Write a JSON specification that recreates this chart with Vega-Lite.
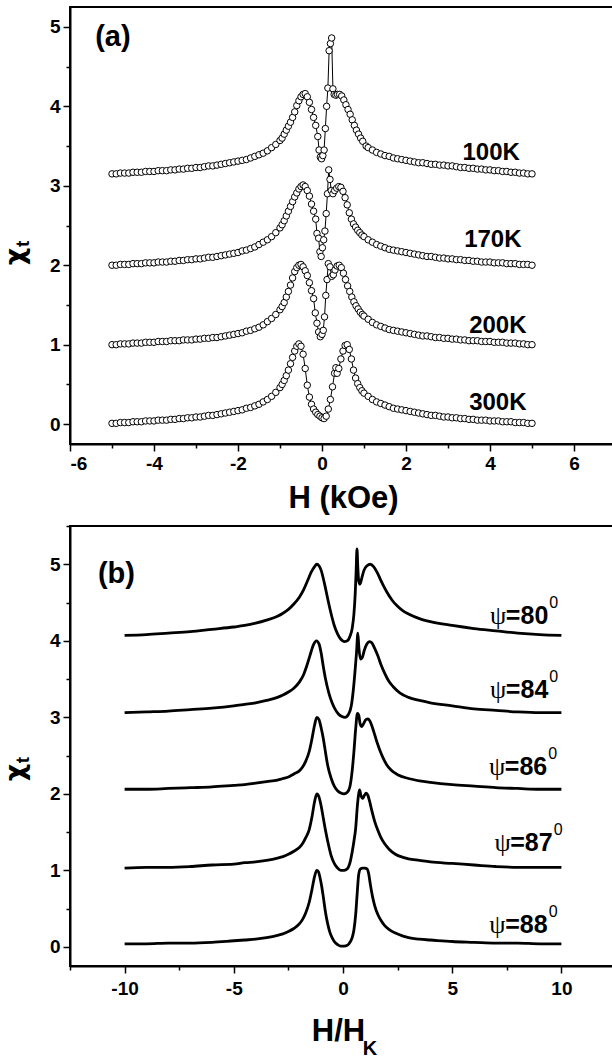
{
"$schema":"https://vega.github.io/schema/vega-lite/v6.json",
"background":"white",
"autosize":{"type":"none"},
"padding":{"left":70,"top":7,"right":542,"bottom":1052},
"spacing":82,
"bounds":"flush",
"config":{
 "view":{"stroke":"black","strokeWidth":2},
 "axis":{"grid":false,"domainColor":"black","domainWidth":2,"tickColor":"black","tickWidth":1.5,"labelColor":"black","labelFont":"Liberation Sans","labelFontWeight":"bold","labelFontSize":19,"titleColor":"black","titleFont":"Liberation Sans","titleFontWeight":"bold"},
 "text":{"font":"Liberation Sans","fontWeight":"bold","color":"black"}
},
"datasets":{
"a":[
{"c":"300K","h":-5,"x":0.01},{"c":"300K","h":-4.9,"x":0.01},{"c":"300K","h":-4.8,"x":0.02},{"c":"300K","h":-4.7,"x":0.02},{"c":"300K","h":-4.6,"x":0.02},{"c":"300K","h":-4.5,"x":0.03},{"c":"300K","h":-4.4,"x":0.03},{"c":"300K","h":-4.3,"x":0.03},{"c":"300K","h":-4.2,"x":0.04},{"c":"300K","h":-4.1,"x":0.04},{"c":"300K","h":-4,"x":0.04},{"c":"300K","h":-3.9,"x":0.05},{"c":"300K","h":-3.8,"x":0.05},{"c":"300K","h":-3.7,"x":0.05},{"c":"300K","h":-3.6,"x":0.06},{"c":"300K","h":-3.5,"x":0.06},{"c":"300K","h":-3.4,"x":0.07},{"c":"300K","h":-3.3,"x":0.07},{"c":"300K","h":-3.2,"x":0.08},{"c":"300K","h":-3.1,"x":0.08},{"c":"300K","h":-3,"x":0.09},{"c":"300K","h":-2.9,"x":0.09},{"c":"300K","h":-2.8,"x":0.1},{"c":"300K","h":-2.7,"x":0.11},{"c":"300K","h":-2.6,"x":0.11},{"c":"300K","h":-2.5,"x":0.12},{"c":"300K","h":-2.4,"x":0.13},{"c":"300K","h":-2.3,"x":0.14},{"c":"300K","h":-2.2,"x":0.15},{"c":"300K","h":-2.1,"x":0.16},{"c":"300K","h":-2,"x":0.17},{"c":"300K","h":-1.9,"x":0.18},{"c":"300K","h":-1.8,"x":0.2},{"c":"300K","h":-1.7,"x":0.21},{"c":"300K","h":-1.6,"x":0.23},{"c":"300K","h":-1.5,"x":0.25},{"c":"300K","h":-1.4,"x":0.28},{"c":"300K","h":-1.3,"x":0.31},{"c":"300K","h":-1.2,"x":0.35},{"c":"300K","h":-1.1,"x":0.4},{"c":"300K","h":-1,"x":0.46},
{"c":"300K","h":-0.95,"x":0.5},{"c":"300K","h":-0.9,"x":0.55},{"c":"300K","h":-0.85,"x":0.61},{"c":"300K","h":-0.8,"x":0.68},{"c":"300K","h":-0.75,"x":0.76},{"c":"300K","h":-0.7,"x":0.84},{"c":"300K","h":-0.65,"x":0.92},{"c":"300K","h":-0.6,"x":0.98},{"c":"300K","h":-0.55,"x":1.01},{"c":"300K","h":-0.5,"x":0.98},{"c":"300K","h":-0.45,"x":0.88},{"c":"300K","h":-0.4,"x":0.7},{"c":"300K","h":-0.35,"x":0.49},{"c":"300K","h":-0.3,"x":0.34},{"c":"300K","h":-0.25,"x":0.25},{"c":"300K","h":-0.2,"x":0.19},{"c":"300K","h":-0.15,"x":0.15},{"c":"300K","h":-0.1,"x":0.12},{"c":"300K","h":-0.05,"x":0.1},{"c":"300K","h":0,"x":0.08},{"c":"300K","h":0.05,"x":0.07},{"c":"300K","h":0.1,"x":0.1},{"c":"300K","h":0.15,"x":0.19},{"c":"300K","h":0.2,"x":0.31},{"c":"300K","h":0.25,"x":0.47},{"c":"300K","h":0.3,"x":0.64},{"c":"300K","h":0.33,"x":0.71},{"c":"300K","h":0.36,"x":0.64},{"c":"300K","h":0.4,"x":0.7},{"c":"300K","h":0.45,"x":0.82},{"c":"300K","h":0.5,"x":0.92},{"c":"300K","h":0.55,"x":0.99},{"c":"300K","h":0.6,"x":1.0},{"c":"300K","h":0.65,"x":0.94},{"c":"300K","h":0.7,"x":0.82},{"c":"300K","h":0.75,"x":0.68},{"c":"300K","h":0.8,"x":0.58},{"c":"300K","h":0.85,"x":0.51},{"c":"300K","h":0.9,"x":0.46},{"c":"300K","h":0.95,"x":0.42},
{"c":"300K","h":1,"x":0.39},{"c":"300K","h":1.1,"x":0.35},{"c":"300K","h":1.2,"x":0.31},{"c":"300K","h":1.3,"x":0.28},{"c":"300K","h":1.4,"x":0.26},{"c":"300K","h":1.5,"x":0.24},{"c":"300K","h":1.6,"x":0.22},{"c":"300K","h":1.7,"x":0.2},{"c":"300K","h":1.8,"x":0.19},{"c":"300K","h":1.9,"x":0.18},{"c":"300K","h":2,"x":0.17},{"c":"300K","h":2.1,"x":0.16},{"c":"300K","h":2.2,"x":0.15},{"c":"300K","h":2.3,"x":0.14},{"c":"300K","h":2.4,"x":0.13},{"c":"300K","h":2.5,"x":0.12},{"c":"300K","h":2.6,"x":0.11},{"c":"300K","h":2.7,"x":0.11},{"c":"300K","h":2.8,"x":0.1},{"c":"300K","h":2.9,"x":0.09},{"c":"300K","h":3,"x":0.09},{"c":"300K","h":3.1,"x":0.08},{"c":"300K","h":3.2,"x":0.08},{"c":"300K","h":3.3,"x":0.07},{"c":"300K","h":3.4,"x":0.07},{"c":"300K","h":3.5,"x":0.06},{"c":"300K","h":3.6,"x":0.06},{"c":"300K","h":3.7,"x":0.05},{"c":"300K","h":3.8,"x":0.05},{"c":"300K","h":3.9,"x":0.05},{"c":"300K","h":4,"x":0.04},{"c":"300K","h":4.1,"x":0.04},{"c":"300K","h":4.2,"x":0.04},{"c":"300K","h":4.3,"x":0.03},{"c":"300K","h":4.4,"x":0.03},{"c":"300K","h":4.5,"x":0.03},{"c":"300K","h":4.6,"x":0.02},{"c":"300K","h":4.7,"x":0.02},{"c":"300K","h":4.8,"x":0.02},{"c":"300K","h":4.9,"x":0.01},{"c":"300K","h":5,"x":0.01},
{"c":"200K","h":-5,"x":1},{"c":"200K","h":-4.9,"x":1},{"c":"200K","h":-4.8,"x":1.01},{"c":"200K","h":-4.7,"x":1.01},{"c":"200K","h":-4.6,"x":1.01},{"c":"200K","h":-4.5,"x":1.02},{"c":"200K","h":-4.4,"x":1.02},{"c":"200K","h":-4.3,"x":1.02},{"c":"200K","h":-4.2,"x":1.03},{"c":"200K","h":-4.1,"x":1.03},{"c":"200K","h":-4,"x":1.03},{"c":"200K","h":-3.9,"x":1.04},{"c":"200K","h":-3.8,"x":1.04},{"c":"200K","h":-3.7,"x":1.04},{"c":"200K","h":-3.6,"x":1.05},{"c":"200K","h":-3.5,"x":1.05},{"c":"200K","h":-3.4,"x":1.05},{"c":"200K","h":-3.3,"x":1.06},{"c":"200K","h":-3.2,"x":1.06},{"c":"200K","h":-3.1,"x":1.06},{"c":"200K","h":-3,"x":1.07},{"c":"200K","h":-2.9,"x":1.07},{"c":"200K","h":-2.8,"x":1.08},{"c":"200K","h":-2.7,"x":1.08},{"c":"200K","h":-2.6,"x":1.09},{"c":"200K","h":-2.5,"x":1.09},{"c":"200K","h":-2.4,"x":1.1},{"c":"200K","h":-2.3,"x":1.11},{"c":"200K","h":-2.2,"x":1.12},{"c":"200K","h":-2.1,"x":1.13},{"c":"200K","h":-2,"x":1.14},{"c":"200K","h":-1.9,"x":1.15},{"c":"200K","h":-1.8,"x":1.17},{"c":"200K","h":-1.7,"x":1.18},{"c":"200K","h":-1.6,"x":1.2},{"c":"200K","h":-1.5,"x":1.22},{"c":"200K","h":-1.4,"x":1.25},{"c":"200K","h":-1.3,"x":1.29},{"c":"200K","h":-1.2,"x":1.33},{"c":"200K","h":-1.1,"x":1.38},{"c":"200K","h":-1,"x":1.44},
{"c":"200K","h":-0.95,"x":1.48},{"c":"200K","h":-0.9,"x":1.53},{"c":"200K","h":-0.85,"x":1.6},{"c":"200K","h":-0.8,"x":1.67},{"c":"200K","h":-0.75,"x":1.75},{"c":"200K","h":-0.7,"x":1.84},{"c":"200K","h":-0.65,"x":1.92},{"c":"200K","h":-0.6,"x":1.97},{"c":"200K","h":-0.55,"x":2},{"c":"200K","h":-0.5,"x":2.01},{"c":"200K","h":-0.45,"x":1.98},{"c":"200K","h":-0.4,"x":1.93},{"c":"200K","h":-0.35,"x":1.87},{"c":"200K","h":-0.3,"x":1.78},{"c":"200K","h":-0.25,"x":1.68},{"c":"200K","h":-0.2,"x":1.58},{"c":"200K","h":-0.16,"x":1.4},{"c":"200K","h":-0.12,"x":1.27},{"c":"200K","h":-0.08,"x":1.16},{"c":"200K","h":-0.04,"x":1.1},{"c":"200K","h":0,"x":1.13},{"c":"200K","h":0.03,"x":1.18},{"c":"200K","h":0.06,"x":1.35},{"c":"200K","h":0.09,"x":1.62},{"c":"200K","h":0.12,"x":1.82},{"c":"200K","h":0.15,"x":2.02},{"c":"200K","h":0.19,"x":1.98},{"c":"200K","h":0.23,"x":1.86},{"c":"200K","h":0.27,"x":1.88},{"c":"200K","h":0.31,"x":1.94},{"c":"200K","h":0.36,"x":1.99},{"c":"200K","h":0.41,"x":2},{"c":"200K","h":0.46,"x":1.97},{"c":"200K","h":0.51,"x":1.9},{"c":"200K","h":0.56,"x":1.82},{"c":"200K","h":0.61,"x":1.74},{"c":"200K","h":0.66,"x":1.67},{"c":"200K","h":0.71,"x":1.6},{"c":"200K","h":0.76,"x":1.54},{"c":"200K","h":0.81,"x":1.49},{"c":"200K","h":0.86,"x":1.45},{"c":"200K","h":0.91,"x":1.41},{"c":"200K","h":0.96,"x":1.38},
{"c":"200K","h":1,"x":1.36},{"c":"200K","h":1.1,"x":1.32},{"c":"200K","h":1.2,"x":1.28},{"c":"200K","h":1.3,"x":1.25},{"c":"200K","h":1.4,"x":1.23},{"c":"200K","h":1.5,"x":1.21},{"c":"200K","h":1.6,"x":1.19},{"c":"200K","h":1.7,"x":1.18},{"c":"200K","h":1.8,"x":1.17},{"c":"200K","h":1.9,"x":1.16},{"c":"200K","h":2,"x":1.15},{"c":"200K","h":2.1,"x":1.14},{"c":"200K","h":2.2,"x":1.13},{"c":"200K","h":2.3,"x":1.12},{"c":"200K","h":2.4,"x":1.11},{"c":"200K","h":2.5,"x":1.11},{"c":"200K","h":2.6,"x":1.1},{"c":"200K","h":2.7,"x":1.09},{"c":"200K","h":2.8,"x":1.09},{"c":"200K","h":2.9,"x":1.08},{"c":"200K","h":3,"x":1.08},{"c":"200K","h":3.1,"x":1.07},{"c":"200K","h":3.2,"x":1.07},{"c":"200K","h":3.3,"x":1.06},{"c":"200K","h":3.4,"x":1.06},{"c":"200K","h":3.5,"x":1.05},{"c":"200K","h":3.6,"x":1.05},{"c":"200K","h":3.7,"x":1.05},{"c":"200K","h":3.8,"x":1.04},{"c":"200K","h":3.9,"x":1.04},{"c":"200K","h":4,"x":1.04},{"c":"200K","h":4.1,"x":1.03},{"c":"200K","h":4.2,"x":1.03},{"c":"200K","h":4.3,"x":1.03},{"c":"200K","h":4.4,"x":1.02},{"c":"200K","h":4.5,"x":1.02},{"c":"200K","h":4.6,"x":1.02},{"c":"200K","h":4.7,"x":1.01},{"c":"200K","h":4.8,"x":1.01},{"c":"200K","h":4.9,"x":1},{"c":"200K","h":5,"x":1},
{"c":"170K","h":-5,"x":2},{"c":"170K","h":-4.9,"x":2},{"c":"170K","h":-4.8,"x":2.01},{"c":"170K","h":-4.7,"x":2.01},{"c":"170K","h":-4.6,"x":2.01},{"c":"170K","h":-4.5,"x":2.02},{"c":"170K","h":-4.4,"x":2.02},{"c":"170K","h":-4.3,"x":2.02},{"c":"170K","h":-4.2,"x":2.03},{"c":"170K","h":-4.1,"x":2.03},{"c":"170K","h":-4,"x":2.03},{"c":"170K","h":-3.9,"x":2.04},{"c":"170K","h":-3.8,"x":2.04},{"c":"170K","h":-3.7,"x":2.04},{"c":"170K","h":-3.6,"x":2.05},{"c":"170K","h":-3.5,"x":2.05},{"c":"170K","h":-3.4,"x":2.06},{"c":"170K","h":-3.3,"x":2.06},{"c":"170K","h":-3.2,"x":2.07},{"c":"170K","h":-3.1,"x":2.07},{"c":"170K","h":-3,"x":2.08},{"c":"170K","h":-2.9,"x":2.08},{"c":"170K","h":-2.8,"x":2.09},{"c":"170K","h":-2.7,"x":2.1},{"c":"170K","h":-2.6,"x":2.1},{"c":"170K","h":-2.5,"x":2.11},{"c":"170K","h":-2.4,"x":2.12},{"c":"170K","h":-2.3,"x":2.13},{"c":"170K","h":-2.2,"x":2.14},{"c":"170K","h":-2.1,"x":2.15},{"c":"170K","h":-2,"x":2.16},{"c":"170K","h":-1.9,"x":2.18},{"c":"170K","h":-1.8,"x":2.19},{"c":"170K","h":-1.7,"x":2.21},{"c":"170K","h":-1.6,"x":2.23},{"c":"170K","h":-1.5,"x":2.26},{"c":"170K","h":-1.4,"x":2.29},{"c":"170K","h":-1.3,"x":2.32},{"c":"170K","h":-1.2,"x":2.36},{"c":"170K","h":-1.1,"x":2.41},{"c":"170K","h":-1,"x":2.47},
{"c":"170K","h":-0.95,"x":2.51},{"c":"170K","h":-0.9,"x":2.56},{"c":"170K","h":-0.85,"x":2.62},{"c":"170K","h":-0.8,"x":2.68},{"c":"170K","h":-0.75,"x":2.74},{"c":"170K","h":-0.7,"x":2.8},{"c":"170K","h":-0.65,"x":2.86},{"c":"170K","h":-0.6,"x":2.91},{"c":"170K","h":-0.55,"x":2.96},{"c":"170K","h":-0.5,"x":2.99},{"c":"170K","h":-0.45,"x":3.01},{"c":"170K","h":-0.4,"x":2.99},{"c":"170K","h":-0.35,"x":2.94},{"c":"170K","h":-0.3,"x":2.87},{"c":"170K","h":-0.25,"x":2.77},{"c":"170K","h":-0.2,"x":2.68},{"c":"170K","h":-0.15,"x":2.58},{"c":"170K","h":-0.12,"x":2.4},{"c":"170K","h":-0.08,"x":2.34},{"c":"170K","h":-0.05,"x":2.17},{"c":"170K","h":-0.02,"x":2.11},{"c":"170K","h":0.01,"x":2.22},{"c":"170K","h":0.04,"x":2.32},{"c":"170K","h":0.07,"x":2.43},{"c":"170K","h":0.1,"x":2.65},{"c":"170K","h":0.13,"x":2.9},{"c":"170K","h":0.16,"x":3.2},{"c":"170K","h":0.19,"x":3.08},{"c":"170K","h":0.22,"x":2.94},{"c":"170K","h":0.26,"x":2.9},{"c":"170K","h":0.3,"x":2.94},{"c":"170K","h":0.35,"x":2.97},{"c":"170K","h":0.4,"x":2.99},{"c":"170K","h":0.45,"x":2.98},{"c":"170K","h":0.5,"x":2.93},{"c":"170K","h":0.55,"x":2.85},{"c":"170K","h":0.6,"x":2.76},{"c":"170K","h":0.65,"x":2.66},{"c":"170K","h":0.7,"x":2.58},{"c":"170K","h":0.75,"x":2.52},{"c":"170K","h":0.8,"x":2.48},{"c":"170K","h":0.85,"x":2.44},{"c":"170K","h":0.9,"x":2.41},{"c":"170K","h":0.95,"x":2.38},
{"c":"170K","h":1,"x":2.36},{"c":"170K","h":1.1,"x":2.32},{"c":"170K","h":1.2,"x":2.29},{"c":"170K","h":1.3,"x":2.26},{"c":"170K","h":1.4,"x":2.24},{"c":"170K","h":1.5,"x":2.22},{"c":"170K","h":1.6,"x":2.2},{"c":"170K","h":1.7,"x":2.19},{"c":"170K","h":1.8,"x":2.18},{"c":"170K","h":1.9,"x":2.17},{"c":"170K","h":2,"x":2.16},{"c":"170K","h":2.1,"x":2.15},{"c":"170K","h":2.2,"x":2.14},{"c":"170K","h":2.3,"x":2.13},{"c":"170K","h":2.4,"x":2.12},{"c":"170K","h":2.5,"x":2.11},{"c":"170K","h":2.6,"x":2.11},{"c":"170K","h":2.7,"x":2.1},{"c":"170K","h":2.8,"x":2.09},{"c":"170K","h":2.9,"x":2.09},{"c":"170K","h":3,"x":2.08},{"c":"170K","h":3.1,"x":2.08},{"c":"170K","h":3.2,"x":2.07},{"c":"170K","h":3.3,"x":2.07},{"c":"170K","h":3.4,"x":2.06},{"c":"170K","h":3.5,"x":2.06},{"c":"170K","h":3.6,"x":2.05},{"c":"170K","h":3.7,"x":2.05},{"c":"170K","h":3.8,"x":2.04},{"c":"170K","h":3.9,"x":2.04},{"c":"170K","h":4,"x":2.04},{"c":"170K","h":4.1,"x":2.03},{"c":"170K","h":4.2,"x":2.03},{"c":"170K","h":4.3,"x":2.03},{"c":"170K","h":4.4,"x":2.02},{"c":"170K","h":4.5,"x":2.02},{"c":"170K","h":4.6,"x":2.02},{"c":"170K","h":4.7,"x":2.01},{"c":"170K","h":4.8,"x":2.01},{"c":"170K","h":4.9,"x":2.01},{"c":"170K","h":5,"x":2},
{"c":"100K","h":-5,"x":3.15},{"c":"100K","h":-4.9,"x":3.15},{"c":"100K","h":-4.8,"x":3.16},{"c":"100K","h":-4.7,"x":3.16},{"c":"100K","h":-4.6,"x":3.16},{"c":"100K","h":-4.5,"x":3.17},{"c":"100K","h":-4.4,"x":3.17},{"c":"100K","h":-4.3,"x":3.17},{"c":"100K","h":-4.2,"x":3.18},{"c":"100K","h":-4.1,"x":3.18},{"c":"100K","h":-4,"x":3.18},{"c":"100K","h":-3.9,"x":3.19},{"c":"100K","h":-3.8,"x":3.19},{"c":"100K","h":-3.7,"x":3.19},{"c":"100K","h":-3.6,"x":3.2},{"c":"100K","h":-3.5,"x":3.2},{"c":"100K","h":-3.4,"x":3.21},{"c":"100K","h":-3.3,"x":3.21},{"c":"100K","h":-3.2,"x":3.22},{"c":"100K","h":-3.1,"x":3.22},{"c":"100K","h":-3,"x":3.23},{"c":"100K","h":-2.9,"x":3.23},{"c":"100K","h":-2.8,"x":3.24},{"c":"100K","h":-2.7,"x":3.25},{"c":"100K","h":-2.6,"x":3.25},{"c":"100K","h":-2.5,"x":3.26},{"c":"100K","h":-2.4,"x":3.27},{"c":"100K","h":-2.3,"x":3.28},{"c":"100K","h":-2.2,"x":3.29},{"c":"100K","h":-2.1,"x":3.3},{"c":"100K","h":-2,"x":3.31},{"c":"100K","h":-1.9,"x":3.32},{"c":"100K","h":-1.8,"x":3.33},{"c":"100K","h":-1.7,"x":3.35},{"c":"100K","h":-1.6,"x":3.37},{"c":"100K","h":-1.5,"x":3.39},{"c":"100K","h":-1.4,"x":3.41},{"c":"100K","h":-1.3,"x":3.44},{"c":"100K","h":-1.2,"x":3.48},{"c":"100K","h":-1.1,"x":3.52},{"c":"100K","h":-1,"x":3.57},
{"c":"100K","h":-0.95,"x":3.6},{"c":"100K","h":-0.9,"x":3.65},{"c":"100K","h":-0.85,"x":3.7},{"c":"100K","h":-0.8,"x":3.75},{"c":"100K","h":-0.75,"x":3.8},{"c":"100K","h":-0.7,"x":3.86},{"c":"100K","h":-0.65,"x":3.93},{"c":"100K","h":-0.6,"x":4.01},{"c":"100K","h":-0.55,"x":4.07},{"c":"100K","h":-0.5,"x":4.12},{"c":"100K","h":-0.45,"x":4.15},{"c":"100K","h":-0.4,"x":4.16},{"c":"100K","h":-0.35,"x":4.12},{"c":"100K","h":-0.3,"x":4.05},{"c":"100K","h":-0.25,"x":3.96},{"c":"100K","h":-0.2,"x":3.86},{"c":"100K","h":-0.15,"x":3.76},{"c":"100K","h":-0.1,"x":3.62},{"c":"100K","h":-0.07,"x":3.45},{"c":"100K","h":-0.04,"x":3.36},{"c":"100K","h":-0.01,"x":3.34},{"c":"100K","h":0.02,"x":3.38},{"c":"100K","h":0.05,"x":3.45},{"c":"100K","h":0.08,"x":3.72},{"c":"100K","h":0.11,"x":4},{"c":"100K","h":0.14,"x":4.23},{"c":"100K","h":0.17,"x":4.7},{"c":"100K","h":0.2,"x":4.79},{"c":"100K","h":0.23,"x":4.86},{"c":"100K","h":0.26,"x":4.22},{"c":"100K","h":0.29,"x":4.15},{"c":"100K","h":0.33,"x":4.14},{"c":"100K","h":0.37,"x":4.15},{"c":"100K","h":0.42,"x":4.15},{"c":"100K","h":0.47,"x":4.13},{"c":"100K","h":0.52,"x":4.08},{"c":"100K","h":0.57,"x":4.02},{"c":"100K","h":0.62,"x":3.96},{"c":"100K","h":0.67,"x":3.9},{"c":"100K","h":0.72,"x":3.83},{"c":"100K","h":0.77,"x":3.76},{"c":"100K","h":0.82,"x":3.7},{"c":"100K","h":0.87,"x":3.65},{"c":"100K","h":0.92,"x":3.6},{"c":"100K","h":0.97,"x":3.56},
{"c":"100K","h":1.05,"x":3.5},{"c":"100K","h":1.1,"x":3.48},{"c":"100K","h":1.2,"x":3.45},{"c":"100K","h":1.3,"x":3.42},{"c":"100K","h":1.4,"x":3.4},{"c":"100K","h":1.5,"x":3.38},{"c":"100K","h":1.6,"x":3.37},{"c":"100K","h":1.7,"x":3.35},{"c":"100K","h":1.8,"x":3.34},{"c":"100K","h":1.9,"x":3.33},{"c":"100K","h":2,"x":3.32},{"c":"100K","h":2.1,"x":3.31},{"c":"100K","h":2.2,"x":3.3},{"c":"100K","h":2.3,"x":3.29},{"c":"100K","h":2.4,"x":3.29},{"c":"100K","h":2.5,"x":3.28},{"c":"100K","h":2.6,"x":3.27},{"c":"100K","h":2.7,"x":3.27},{"c":"100K","h":2.8,"x":3.26},{"c":"100K","h":2.9,"x":3.26},{"c":"100K","h":3,"x":3.25},{"c":"100K","h":3.1,"x":3.25},{"c":"100K","h":3.2,"x":3.24},{"c":"100K","h":3.3,"x":3.23},{"c":"100K","h":3.4,"x":3.23},{"c":"100K","h":3.5,"x":3.22},{"c":"100K","h":3.6,"x":3.22},{"c":"100K","h":3.7,"x":3.21},{"c":"100K","h":3.8,"x":3.21},{"c":"100K","h":3.9,"x":3.2},{"c":"100K","h":4,"x":3.2},{"c":"100K","h":4.1,"x":3.19},{"c":"100K","h":4.2,"x":3.19},{"c":"100K","h":4.3,"x":3.18},{"c":"100K","h":4.4,"x":3.18},{"c":"100K","h":4.5,"x":3.17},{"c":"100K","h":4.6,"x":3.17},{"c":"100K","h":4.7,"x":3.16},{"c":"100K","h":4.8,"x":3.16},{"c":"100K","h":4.9,"x":3.15},{"c":"100K","h":5,"x":3.15}
],
"al":[{"t":"100K","h":4.71,"x":3.32},{"t":"170K","h":4.75,"x":2.23},{"t":"200K","h":4.87,"x":1.15},{"t":"300K","h":4.87,"x":0.18}],
"b":[
{"c":"80","h":-10,"x":4.07},{"c":"80","h":-9,"x":4.08},{"c":"80","h":-8,"x":4.1},{"c":"80","h":-7,"x":4.12},{"c":"80","h":-6,"x":4.15},{"c":"80","h":-5,"x":4.18},{"c":"80","h":-4.5,"x":4.2},{"c":"80","h":-4,"x":4.23},{"c":"80","h":-3.5,"x":4.27},{"c":"80","h":-3,"x":4.32},{"c":"80","h":-2.75,"x":4.36},{"c":"80","h":-2.5,"x":4.41},{"c":"80","h":-2.25,"x":4.48},{"c":"80","h":-2,"x":4.57},{"c":"80","h":-1.8,"x":4.67},{"c":"80","h":-1.6,"x":4.8},{"c":"80","h":-1.45,"x":4.9},{"c":"80","h":-1.3,"x":4.97},{"c":"80","h":-1.2,"x":5},{"c":"80","h":-1.1,"x":4.98},{"c":"80","h":-1,"x":4.92},{"c":"80","h":-0.85,"x":4.75},{"c":"80","h":-0.7,"x":4.55},{"c":"80","h":-0.55,"x":4.36},{"c":"80","h":-0.4,"x":4.2},{"c":"80","h":-0.25,"x":4.09},{"c":"80","h":-0.1,"x":4.02},{"c":"80","h":0.05,"x":3.99},{"c":"80","h":0.2,"x":4},{"c":"80","h":0.32,"x":4.06},{"c":"80","h":0.42,"x":4.16},{"c":"80","h":0.5,"x":4.35},{"c":"80","h":0.56,"x":4.62},{"c":"80","h":0.6,"x":4.9},{"c":"80","h":0.64,"x":5.2},{"c":"80","h":0.68,"x":4.95},{"c":"80","h":0.72,"x":4.78},{"c":"80","h":0.78,"x":4.74},{"c":"80","h":0.86,"x":4.82},{"c":"80","h":0.96,"x":4.92},{"c":"80","h":1.1,"x":4.98},{"c":"80","h":1.25,"x":5},{"c":"80","h":1.4,"x":4.97},{"c":"80","h":1.55,"x":4.9},{"c":"80","h":1.7,"x":4.81},{"c":"80","h":1.85,"x":4.72},{"c":"80","h":2,"x":4.64},{"c":"80","h":2.25,"x":4.53},{"c":"80","h":2.5,"x":4.45},{"c":"80","h":2.75,"x":4.39},{"c":"80","h":3,"x":4.35},{"c":"80","h":3.5,"x":4.29},{"c":"80","h":4,"x":4.25},{"c":"80","h":5,"x":4.2},{"c":"80","h":6,"x":4.16},{"c":"80","h":7,"x":4.13},{"c":"80","h":8,"x":4.1},{"c":"80","h":9,"x":4.08},{"c":"80","h":10,"x":4.07},
{"c":"84","h":-10,"x":3.06},{"c":"84","h":-9,"x":3.07},{"c":"84","h":-8,"x":3.08},{"c":"84","h":-7,"x":3.1},{"c":"84","h":-6,"x":3.12},{"c":"84","h":-5,"x":3.15},{"c":"84","h":-4.5,"x":3.17},{"c":"84","h":-4,"x":3.19},{"c":"84","h":-3.5,"x":3.22},{"c":"84","h":-3,"x":3.26},{"c":"84","h":-2.75,"x":3.29},{"c":"84","h":-2.5,"x":3.33},{"c":"84","h":-2.25,"x":3.38},{"c":"84","h":-2,"x":3.46},{"c":"84","h":-1.8,"x":3.56},{"c":"84","h":-1.65,"x":3.68},{"c":"84","h":-1.5,"x":3.82},{"c":"84","h":-1.35,"x":3.95},{"c":"84","h":-1.22,"x":4},{"c":"84","h":-1.1,"x":3.96},{"c":"84","h":-1,"x":3.84},{"c":"84","h":-0.9,"x":3.66},{"c":"84","h":-0.8,"x":3.5},{"c":"84","h":-0.65,"x":3.32},{"c":"84","h":-0.5,"x":3.19},{"c":"84","h":-0.35,"x":3.1},{"c":"84","h":-0.2,"x":3.04},{"c":"84","h":-0.05,"x":3.01},{"c":"84","h":0.1,"x":3},{"c":"84","h":0.25,"x":3.04},{"c":"84","h":0.38,"x":3.15},{"c":"84","h":0.47,"x":3.35},{"c":"84","h":0.55,"x":3.6},{"c":"84","h":0.62,"x":3.85},{"c":"84","h":0.68,"x":4.1},{"c":"84","h":0.73,"x":3.9},{"c":"84","h":0.8,"x":3.76},{"c":"84","h":0.88,"x":3.78},{"c":"84","h":0.98,"x":3.88},{"c":"84","h":1.1,"x":3.96},{"c":"84","h":1.2,"x":3.99},{"c":"84","h":1.3,"x":3.98},{"c":"84","h":1.45,"x":3.9},{"c":"84","h":1.6,"x":3.8},{"c":"84","h":1.75,"x":3.68},{"c":"84","h":1.9,"x":3.58},{"c":"84","h":2.1,"x":3.47},{"c":"84","h":2.3,"x":3.4},{"c":"84","h":2.6,"x":3.32},{"c":"84","h":3,"x":3.26},{"c":"84","h":3.5,"x":3.22},{"c":"84","h":4,"x":3.19},{"c":"84","h":5,"x":3.15},{"c":"84","h":6,"x":3.11},{"c":"84","h":7,"x":3.09},{"c":"84","h":8,"x":3.07},{"c":"84","h":9,"x":3.06},{"c":"84","h":10,"x":3.06},
{"c":"86","h":-10,"x":2.06},{"c":"86","h":-9,"x":2.06},{"c":"86","h":-8,"x":2.07},{"c":"86","h":-7,"x":2.08},{"c":"86","h":-6,"x":2.09},{"c":"86","h":-5,"x":2.11},{"c":"86","h":-4.5,"x":2.12},{"c":"86","h":-4,"x":2.14},{"c":"86","h":-3.5,"x":2.16},{"c":"86","h":-3,"x":2.18},{"c":"86","h":-2.75,"x":2.2},{"c":"86","h":-2.5,"x":2.22},{"c":"86","h":-2.25,"x":2.26},{"c":"86","h":-2,"x":2.3},{"c":"86","h":-1.85,"x":2.35},{"c":"86","h":-1.7,"x":2.43},{"c":"86","h":-1.55,"x":2.55},{"c":"86","h":-1.42,"x":2.72},{"c":"86","h":-1.3,"x":2.9},{"c":"86","h":-1.2,"x":3},{"c":"86","h":-1.1,"x":2.97},{"c":"86","h":-1,"x":2.86},{"c":"86","h":-0.9,"x":2.72},{"c":"86","h":-0.8,"x":2.54},{"c":"86","h":-0.7,"x":2.37},{"c":"86","h":-0.55,"x":2.21},{"c":"86","h":-0.4,"x":2.1},{"c":"86","h":-0.25,"x":2.04},{"c":"86","h":-0.1,"x":2.01},{"c":"86","h":0.05,"x":2},{"c":"86","h":0.2,"x":2.02},{"c":"86","h":0.32,"x":2.1},{"c":"86","h":0.42,"x":2.3},{"c":"86","h":0.5,"x":2.55},{"c":"86","h":0.58,"x":2.85},{"c":"86","h":0.66,"x":3.05},{"c":"86","h":0.72,"x":3.03},{"c":"86","h":0.78,"x":2.92},{"c":"86","h":0.85,"x":2.88},{"c":"86","h":0.93,"x":2.91},{"c":"86","h":1.05,"x":2.97},{"c":"86","h":1.15,"x":2.98},{"c":"86","h":1.25,"x":2.94},{"c":"86","h":1.4,"x":2.82},{"c":"86","h":1.55,"x":2.68},{"c":"86","h":1.7,"x":2.56},{"c":"86","h":1.85,"x":2.46},{"c":"86","h":2,"x":2.38},{"c":"86","h":2.2,"x":2.31},{"c":"86","h":2.5,"x":2.25},{"c":"86","h":3,"x":2.2},{"c":"86","h":3.5,"x":2.17},{"c":"86","h":4,"x":2.15},{"c":"86","h":5,"x":2.12},{"c":"86","h":6,"x":2.1},{"c":"86","h":7,"x":2.08},{"c":"86","h":8,"x":2.07},{"c":"86","h":9,"x":2.06},{"c":"86","h":10,"x":2.06},
{"c":"87","h":-10,"x":1.03},{"c":"87","h":-9,"x":1.04},{"c":"87","h":-8,"x":1.04},{"c":"87","h":-7,"x":1.05},{"c":"87","h":-6,"x":1.07},{"c":"87","h":-5,"x":1.08},{"c":"87","h":-4.5,"x":1.1},{"c":"87","h":-4,"x":1.11},{"c":"87","h":-3.5,"x":1.13},{"c":"87","h":-3,"x":1.16},{"c":"87","h":-2.75,"x":1.18},{"c":"87","h":-2.5,"x":1.21},{"c":"87","h":-2.25,"x":1.25},{"c":"87","h":-2,"x":1.3},{"c":"87","h":-1.85,"x":1.35},{"c":"87","h":-1.7,"x":1.43},{"c":"87","h":-1.55,"x":1.53},{"c":"87","h":-1.42,"x":1.7},{"c":"87","h":-1.3,"x":1.9},{"c":"87","h":-1.2,"x":2},{"c":"87","h":-1.1,"x":1.96},{"c":"87","h":-1,"x":1.84},{"c":"87","h":-0.9,"x":1.68},{"c":"87","h":-0.8,"x":1.52},{"c":"87","h":-0.7,"x":1.38},{"c":"87","h":-0.55,"x":1.2},{"c":"87","h":-0.4,"x":1.09},{"c":"87","h":-0.25,"x":1.03},{"c":"87","h":-0.1,"x":1},{"c":"87","h":0.05,"x":1},{"c":"87","h":0.2,"x":1.02},{"c":"87","h":0.32,"x":1.1},{"c":"87","h":0.42,"x":1.24},{"c":"87","h":0.5,"x":1.38},{"c":"87","h":0.58,"x":1.55},{"c":"87","h":0.66,"x":1.85},{"c":"87","h":0.72,"x":2},{"c":"87","h":0.76,"x":2.05},{"c":"87","h":0.82,"x":1.98},{"c":"87","h":0.9,"x":1.94},{"c":"87","h":0.98,"x":1.98},{"c":"87","h":1.06,"x":2.01},{"c":"87","h":1.14,"x":1.98},{"c":"87","h":1.22,"x":1.9},{"c":"87","h":1.32,"x":1.78},{"c":"87","h":1.45,"x":1.64},{"c":"87","h":1.6,"x":1.52},{"c":"87","h":1.75,"x":1.42},{"c":"87","h":1.9,"x":1.35},{"c":"87","h":2.1,"x":1.28},{"c":"87","h":2.4,"x":1.21},{"c":"87","h":2.75,"x":1.17},{"c":"87","h":3,"x":1.15},{"c":"87","h":3.5,"x":1.13},{"c":"87","h":4,"x":1.11},{"c":"87","h":5,"x":1.09},{"c":"87","h":6,"x":1.07},{"c":"87","h":7,"x":1.05},{"c":"87","h":8,"x":1.04},{"c":"87","h":9,"x":1.04},{"c":"87","h":10,"x":1.04},
{"c":"88","h":-10,"x":0.04},{"c":"88","h":-9,"x":0.04},{"c":"88","h":-8,"x":0.05},{"c":"88","h":-7,"x":0.05},{"c":"88","h":-6,"x":0.06},{"c":"88","h":-5,"x":0.08},{"c":"88","h":-4.5,"x":0.09},{"c":"88","h":-4,"x":0.1},{"c":"88","h":-3.5,"x":0.12},{"c":"88","h":-3,"x":0.15},{"c":"88","h":-2.75,"x":0.17},{"c":"88","h":-2.5,"x":0.2},{"c":"88","h":-2.25,"x":0.24},{"c":"88","h":-2,"x":0.3},{"c":"88","h":-1.85,"x":0.36},{"c":"88","h":-1.7,"x":0.45},{"c":"88","h":-1.55,"x":0.58},{"c":"88","h":-1.42,"x":0.75},{"c":"88","h":-1.3,"x":0.92},{"c":"88","h":-1.2,"x":1},{"c":"88","h":-1.12,"x":0.98},{"c":"88","h":-1.05,"x":0.9},{"c":"88","h":-0.98,"x":0.8},{"c":"88","h":-0.9,"x":0.65},{"c":"88","h":-0.8,"x":0.45},{"c":"88","h":-0.7,"x":0.3},{"c":"88","h":-0.6,"x":0.19},{"c":"88","h":-0.5,"x":0.12},{"c":"88","h":-0.4,"x":0.07},{"c":"88","h":-0.25,"x":0.03},{"c":"88","h":-0.1,"x":0.01},{"c":"88","h":0.05,"x":0.01},{"c":"88","h":0.2,"x":0.02},{"c":"88","h":0.32,"x":0.06},{"c":"88","h":0.42,"x":0.12},{"c":"88","h":0.5,"x":0.22},{"c":"88","h":0.58,"x":0.42},{"c":"88","h":0.65,"x":0.7},{"c":"88","h":0.72,"x":0.95},{"c":"88","h":0.8,"x":1.02},{"c":"88","h":0.9,"x":1.03},{"c":"88","h":1,"x":1.03},{"c":"88","h":1.1,"x":1.02},{"c":"88","h":1.18,"x":0.95},{"c":"88","h":1.25,"x":0.82},{"c":"88","h":1.35,"x":0.66},{"c":"88","h":1.45,"x":0.54},{"c":"88","h":1.6,"x":0.42},{"c":"88","h":1.75,"x":0.34},{"c":"88","h":1.9,"x":0.28},{"c":"88","h":2.1,"x":0.23},{"c":"88","h":2.4,"x":0.18},{"c":"88","h":2.75,"x":0.14},{"c":"88","h":3,"x":0.12},{"c":"88","h":3.5,"x":0.1},{"c":"88","h":4,"x":0.09},{"c":"88","h":5,"x":0.07},{"c":"88","h":6,"x":0.06},{"c":"88","h":7,"x":0.05},{"c":"88","h":8,"x":0.05},{"c":"88","h":9,"x":0.04},{"c":"88","h":10,"x":0.04}
],
"bl":[{"t":"=80","h":9.4,"x":4.22},{"t":"=84","h":9.4,"x":3.25},{"t":"=86","h":9.35,"x":2.24},{"t":"=87","h":9.6,"x":1.25},{"t":"=88","h":9.37,"x":0.18}]
},
"vconcat":[
{
 "width":546,"height":437,
 "resolve":{"axis":{"x":"independent","y":"independent"}},
 "layer":[
  {"data":{"name":"a"},"mark":{"type":"line","color":"black","strokeWidth":1},
   "encoding":{
    "x":{"field":"h","type":"quantitative","scale":{"domain":[-6,7],"nice":false,"zero":false},
     "axis":{"orient":"bottom","values":[-6,-4,-2,0,2,4,6],"tickSize":7,"labelPadding":3,"labelExpr":"replace(datum.label,'\u2212','-')","title":"H (kOe)","titleFontSize":31,"titleY":63,"titleBaseline":"alphabetic"}},
    "y":{"field":"x","type":"quantitative","scale":{"domain":[-0.25,5.25],"nice":false,"zero":false},
     "axis":{"orient":"left","values":[0,1,2,3,4,5],"tickSize":7,"labelPadding":3,"title":"χ","titleFont":"DejaVu Sans","titleFontSize":27,"titleX":-47,"titleY":249,"titleAngle":-90,"titleAlign":"center","titleBaseline":"alphabetic"}},
    "detail":{"field":"c"}}},
  {"data":{"name":"a"},"mark":{"type":"point","shape":"circle","filled":true,"fill":"white","stroke":"black","strokeWidth":1,"size":42,"opacity":1},
   "encoding":{
    "x":{"field":"h","type":"quantitative","scale":{"domain":[-6,7],"nice":false,"zero":false},"axis":{"orient":"bottom","values":[-5,-3,-1,1,3,5,7],"labels":false,"domain":false,"tickSize":4,"title":null}},
    "y":{"field":"x","type":"quantitative","scale":{"domain":[-0.25,5.25],"nice":false,"zero":false},"axis":{"orient":"left","values":[0.5,1.5,2.5,3.5,4.5],"labels":false,"domain":false,"tickSize":4,"title":null}}}},
  {"data":{"name":"al"},"mark":{"type":"text","align":"right","baseline":"alphabetic","fontSize":24},
   "encoding":{
    "x":{"field":"h","type":"quantitative","scale":{"domain":[-6,7],"nice":false,"zero":false},"axis":null},
    "y":{"field":"x","type":"quantitative","scale":{"domain":[-0.25,5.25],"nice":false,"zero":false},"axis":null},
    "text":{"field":"t"}}},
  {"data":{"values":[{"t":"(a)","h":-5.4,"x":4.76}]},"mark":{"type":"text","align":"left","baseline":"alphabetic","fontSize":29},
   "encoding":{
    "x":{"field":"h","type":"quantitative","scale":{"domain":[-6,7],"nice":false,"zero":false},"axis":null},
    "y":{"field":"x","type":"quantitative","scale":{"domain":[-0.25,5.25],"nice":false,"zero":false},"axis":null},
    "text":{"field":"t"}}},
  {"data":{"values":[{"t":"t","h":-6.98,"x":2.27}]},"mark":{"type":"text","angle":270,"align":"center","baseline":"alphabetic","fontSize":19},
   "encoding":{
    "x":{"field":"h","type":"quantitative","scale":{"domain":[-6,7],"nice":false,"zero":false},"axis":null},
    "y":{"field":"x","type":"quantitative","scale":{"domain":[-0.25,5.25],"nice":false,"zero":false},"axis":null},
    "text":{"field":"t"}}}
 ]
},
{
 "width":546,"height":440,
 "resolve":{"axis":{"x":"independent","y":"independent"}},
 "layer":[
  {"data":{"name":"b"},"mark":{"type":"line","color":"black","strokeWidth":2.8,"interpolate":"monotone"},
   "encoding":{
    "x":{"field":"h","type":"quantitative","scale":{"domain":[-12.5,12.5],"nice":false,"zero":false},
     "axis":{"orient":"bottom","values":[-10,-5,0,5,10],"tickSize":7,"labelPadding":6,"labelExpr":"replace(datum.label,'\u2212','-')","title":"H/H","titleFontSize":31,"titleX":268,"titleY":74,"titleBaseline":"alphabetic"}},
    "y":{"field":"x","type":"quantitative","scale":{"domain":[-0.25,5.5],"nice":false,"zero":false},
     "axis":{"orient":"left","values":[0,1,2,3,4,5],"tickSize":7,"labelPadding":3,"title":"χ","titleFont":"DejaVu Sans","titleFontSize":27,"titleX":-47,"titleY":246,"titleAngle":-90,"titleAlign":"center","titleBaseline":"alphabetic"}},
    "detail":{"field":"c"}}},
  {"data":{"values":[{"t":"(b)","h":-11.22,"x":4.75}]},"mark":{"type":"text","align":"left","baseline":"alphabetic","fontSize":29},
   "encoding":{
    "x":{"field":"h","type":"quantitative","scale":{"domain":[-12.5,12.5],"nice":false,"zero":false},"axis":{"orient":"bottom","values":[-12.5,-7.5,-2.5,2.5,7.5,12.5],"labels":false,"domain":false,"tickSize":4,"title":null}},
    "y":{"field":"x","type":"quantitative","scale":{"domain":[-0.25,5.5],"nice":false,"zero":false},"axis":{"orient":"left","values":[0.5,1.5,2.5,3.5,4.5,5.5],"labels":false,"domain":false,"tickSize":4,"title":null}},
    "text":{"field":"t"}}},
  {"data":{"name":"bl"},"mark":{"type":"text","align":"right","baseline":"alphabetic","fontSize":25},
   "encoding":{
    "x":{"field":"h","type":"quantitative","scale":{"domain":[-12.5,12.5],"nice":false,"zero":false},"axis":null},
    "y":{"field":"x","type":"quantitative","scale":{"domain":[-0.25,5.5],"nice":false,"zero":false},"axis":null},
    "text":{"field":"t"}}},
  {"data":{"name":"bl"},"mark":{"type":"text","align":"right","baseline":"alphabetic","font":"Liberation Serif","fontWeight":"normal","fontSize":26,"dx":-42},
   "encoding":{
    "x":{"field":"h","type":"quantitative","scale":{"domain":[-12.5,12.5],"nice":false,"zero":false},"axis":null},
    "y":{"field":"x","type":"quantitative","scale":{"domain":[-0.25,5.5],"nice":false,"zero":false},"axis":null},
    "text":{"value":"ψ"}}},
  {"data":{"name":"bl"},"mark":{"type":"text","align":"left","baseline":"alphabetic","fontWeight":"normal","fontSize":16,"dx":1,"dy":-16},
   "encoding":{
    "x":{"field":"h","type":"quantitative","scale":{"domain":[-12.5,12.5],"nice":false,"zero":false},"axis":null},
    "y":{"field":"x","type":"quantitative","scale":{"domain":[-0.25,5.5],"nice":false,"zero":false},"axis":null},
    "text":{"value":"0"}}},
  {"data":{"values":[{"t":"K"}]},"mark":{"type":"text","align":"left","baseline":"alphabetic","fontSize":20,"dy":89},
   "encoding":{
    "x":{"datum":0.9,"type":"quantitative","scale":{"domain":[-12.5,12.5],"nice":false,"zero":false},"axis":null},
    "y":{"datum":-0.25,"type":"quantitative","scale":{"domain":[-0.25,5.5],"nice":false,"zero":false},"axis":null},
    "text":{"field":"t"}}},
  {"data":{"values":[{"t":"t","h":-14.38,"x":2.44}]},"mark":{"type":"text","angle":270,"align":"center","baseline":"alphabetic","fontSize":19},
   "encoding":{
    "x":{"field":"h","type":"quantitative","scale":{"domain":[-12.5,12.5],"nice":false,"zero":false},"axis":null},
    "y":{"field":"x","type":"quantitative","scale":{"domain":[-0.25,5.5],"nice":false,"zero":false},"axis":null},
    "text":{"field":"t"}}}
 ]
}
]
}
